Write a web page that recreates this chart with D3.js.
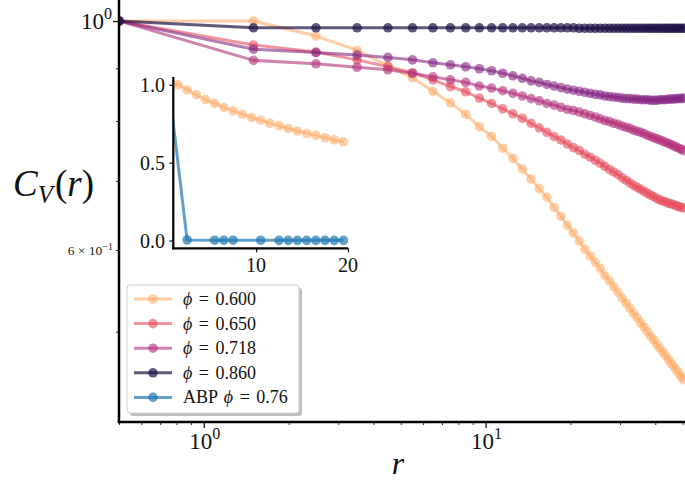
<!DOCTYPE html>
<html><head><meta charset="utf-8">
<script src="https://cdn.jsdelivr.net/npm/d3@7"></script>
<style>
html,body{margin:0;padding:0;background:#fff;}
svg text{font-family:"Liberation Serif","DejaVu Serif",serif;fill:#111;}
</style></head>
<body>
<svg id="chart" width="685" height="482"></svg>
<script>
// ---------------- data ----------------
const rValues = [0.5,1.5,2.5,3.5,4.5,5.5,6.5,7.5,8.5,9.5,10.5,11.5,12.5,13.5,14.5,15.5,16.5,17.5,18.5,19.5,20.5,21.5,22.5,23.5,24.5,25.5,26.5,27.5,28.5,29.5,30.5,31.5,32.5,33.5,34.5,35.5,36.5,37.5,38.5,39.5,40.5,41.5,42.5,43.5,44.5,45.5,46.5,47.5,48.5,49.5,50.5];
const phi0600 = [1.000,1.000,0.967,0.937,0.905,0.881,0.855,0.833,0.812,0.790,0.773,0.753,0.736,0.719,0.703,0.688,0.675,0.660,0.647,0.634,0.623,0.612,0.601,0.592,0.584,0.576,0.567,0.560,0.553,0.546,0.539,0.533,0.527,0.521,0.516,0.510,0.505,0.500,0.495,0.491,0.486,0.482,0.478,0.474,0.470,0.466,0.463,0.459,0.456,0.452,0.449];
const phi0650 = [1.000,0.948,0.933,0.917,0.903,0.891,0.877,0.864,0.854,0.842,0.832,0.822,0.813,0.805,0.796,0.788,0.780,0.773,0.767,0.760,0.754,0.749,0.743,0.738,0.733,0.728,0.723,0.718,0.714,0.710,0.705,0.701,0.697,0.693,0.690,0.687,0.684,0.681,0.678,0.676,0.673,0.671,0.669,0.668,0.666,0.665,0.664,0.662,0.661,0.660,0.659];
const phi0718 = [1.000,0.916,0.909,0.902,0.897,0.890,0.883,0.877,0.872,0.865,0.861,0.856,0.851,0.846,0.841,0.837,0.832,0.829,0.825,0.821,0.819,0.816,0.813,0.810,0.807,0.804,0.801,0.799,0.796,0.794,0.791,0.789,0.787,0.784,0.782,0.780,0.778,0.775,0.773,0.771,0.769,0.767,0.765,0.763,0.761,0.759,0.757,0.755,0.753,0.751,0.749];
const phiUnlabeled = [1.000,0.939,0.932,0.927,0.922,0.917,0.911,0.907,0.903,0.899,0.895,0.890,0.885,0.880,0.875,0.872,0.868,0.865,0.862,0.859,0.857,0.855,0.853,0.851,0.849,0.848,0.846,0.845,0.844,0.843,0.842,0.841,0.841,0.840,0.840,0.839,0.839,0.839,0.838,0.838,0.838,0.839,0.839,0.839,0.840,0.840,0.840,0.841,0.841,0.841,0.842];
const phi0860 = [1.000,0.985,0.985,0.985,0.985,0.985,0.985,0.985,0.985,0.985,0.985,0.985,0.985,0.985,0.985,0.985,0.985,0.985,0.985,0.985,0.985,0.984,0.984,0.984,0.984,0.984,0.984,0.984,0.984,0.984,0.984,0.984,0.984,0.984,0.984,0.984,0.984,0.984,0.984,0.984,0.984,0.984,0.984,0.984,0.984,0.984,0.984,0.984,0.984,0.984,0.984];
const rABP = [0.5,2.5,5.5,6.5,7.5,10.5,12.5,13.5,14.5,15.5,16.5,17.5,18.5,19.5];
const abp076 = [1.000,0.004,0.002,0.002,0.002,0.002,0.001,0.001,0.001,0.001,0.001,0.001,0.001,0.001];

const legendLabels = ["\u03D5 = 0.600","\u03D5 = 0.650","\u03D5 = 0.718","\u03D5 = 0.860","ABP \u03D5 = 0.76"];
const xMajorTicks = [1, 10];
const xMinorTicks = [0.5,0.6,0.7,0.8,0.9,2,3,4,5,6,7,8,9,20,30,40,50];
const yMajorTicks = [1];
const yMinorTicks = [0.5,0.6,0.7,0.8,0.9];
const insetXTicks = [10, 20];
const insetYTicks = [0.0, 0.5, 1.0];

// ---------------- styles ----------------
const colors = {
  p600: "#fdad6a",
  p650: "#e64f5e",
  p718: "#b2307c",
  pun:  "#832380",
  p860: "#1e1146",
  abp:  "#1f77b4"
};
const alpha = 0.6;
const LW = 3, RAD = 4.8;

const svg = d3.select("#chart");

// ---------------- main axes ----------------
const mL = 119, mR = 685, mT = 0, mB = 422;
const x = d3.scaleLog().domain([0.5, 51]).range([mL, mR]);
const y = d3.scaleLog().domain([0.4088, 1.048]).range([mB, mT]);

svg.append("clipPath").attr("id","mainClip").append("rect")
  .attr("x", mL).attr("y", mT).attr("width", mR-mL).attr("height", mB-mT);

const main = svg.append("g").attr("clip-path","url(#mainClip)");

function drawSeries(g, xs, ys, xsc, ysc, color, a, lw, rad){
  const pts = xs.map((d,i)=>[d, ys[i]]);
  const line = d3.line().x(d=>xsc(d[0])).y(d=>ysc(d[1]));
  g.append("path").datum(pts).attr("d", line)
    .attr("fill","none").attr("stroke", color).attr("stroke-width", lw)
    .attr("stroke-opacity", a).attr("stroke-linejoin","round");
  g.append("g").selectAll("circle").data(pts).join("circle")
    .attr("cx", d=>xsc(d[0])).attr("cy", d=>ysc(d[1])).attr("r", rad)
    .attr("fill", color).attr("fill-opacity", a);
}

drawSeries(main, rValues, phi0600, x, y, colors.p600, alpha, LW, RAD);
drawSeries(main, rValues, phi0650, x, y, colors.p650, alpha, LW, RAD);
drawSeries(main, rValues, phi0718, x, y, colors.p718, alpha, LW, RAD);
drawSeries(main, rValues, phiUnlabeled, x, y, colors.pun, alpha, LW, RAD);
drawSeries(main, rValues, phi0860, x, y, colors.p860, 0.7, LW, RAD);

// axes
const xAxis = d3.axisBottom(x).tickValues(xMajorTicks).tickSize(6).tickFormat("");
const xAxisMinor = d3.axisBottom(x).tickValues(xMinorTicks).tickSize(3).tickFormat("");
const yAxis = d3.axisLeft(y).tickValues(yMajorTicks).tickSize(6).tickFormat("");
const yAxisMinor = d3.axisLeft(y).tickValues(yMinorTicks).tickSize(3).tickFormat("");

function styleAxis(g, w){
  g.select(".domain").remove();
  g.selectAll(".tick line").attr("stroke","#111").attr("stroke-width", w);
}
svg.append("g").attr("transform",`translate(0,${mB})`).call(xAxis).call(g=>styleAxis(g,1.3));
svg.append("g").attr("transform",`translate(0,${mB})`).call(xAxisMinor).call(g=>styleAxis(g,0.9));
svg.append("g").attr("transform",`translate(${mL},0)`).call(yAxis).call(g=>styleAxis(g,1.3));
svg.append("g").attr("transform",`translate(${mL},0)`).call(yAxisMinor).call(g=>styleAxis(g,0.9));

// spines
svg.append("line").attr("x1",mL).attr("x2",mL).attr("y1",mT).attr("y2",mB+1.2)
  .attr("stroke","#000").attr("stroke-width",2.5);
svg.append("line").attr("x1",mL-1.2).attr("x2",mR).attr("y1",mB).attr("y2",mB)
  .attr("stroke","#000").attr("stroke-width",2.5);

// tick labels (power notation)
function powLabel(px, py, base, exp, fs, anchor){
  const t = svg.append("text").attr("x",px).attr("y",py).attr("text-anchor",anchor)
    .style("font-size", fs+"px");
  t.append("tspan").text(base);
  t.append("tspan").attr("dy", -fs*0.42).style("font-size",(fs*0.7)+"px").text(exp);
  return t;
}
xMajorTicks.forEach(v=>{
  powLabel(x(v)+1, 449, "10", String(Math.round(Math.log10(v))), 23, "middle");
});
yMajorTicks.forEach(v=>{
  powLabel(112, y(v)+8, "10", String(Math.round(Math.log10(v))), 23, "end");
});
// minor label 6 x 10^-1
{
  const t = svg.append("text").attr("x",113).attr("y",y(0.6)+5).attr("text-anchor","end")
    .style("font-size","13.5px").style("fill","#222");
  t.append("tspan").text("6 \u00D7 10");
  t.append("tspan").attr("dy",-5).style("font-size","10px").text("\u22121");
}

// axis labels
{
  const t = svg.append("text").attr("x",13).attr("y",196).style("font-size","37px");
  t.append("tspan").style("font-style","italic").text("C");
  t.append("tspan").attr("dy",7).style("font-size","25px").style("font-style","italic").text("V");
  t.append("tspan").attr("dy",-7).attr("dx",2).text("(");
  t.append("tspan").style("font-style","italic").text("r");
  t.append("tspan").text(")");
}
svg.append("text").attr("x",398).attr("y",474).attr("text-anchor","middle")
  .style("font-size","32px").style("font-style","italic").text("r");

// ---------------- inset ----------------
const iL = 173.3, iR = 348, iT = 77, iB = 248.3;
const xi = d3.scaleLinear().domain([1, 20]).range([iL, iR]);
const yi = d3.scaleLinear().domain([-0.05, 1.05]).range([iB, iT]);

svg.append("clipPath").attr("id","insetClip").append("rect")
  .attr("x", iL).attr("y", iT).attr("width", iR-iL).attr("height", iB-iT);
const inset = svg.append("g").attr("clip-path","url(#insetClip)");
const rIn = rValues.filter(v=>v<=20);
drawSeries(inset, rIn, phi0600.slice(0, rIn.length), xi, yi, colors.p600, alpha, LW, RAD);
drawSeries(inset, rABP, abp076, xi, yi, colors.abp, 0.7, LW, RAD);

svg.append("g").attr("transform",`translate(0,${iB})`)
  .call(d3.axisBottom(xi).tickValues(insetXTicks).tickSize(4).tickFormat(""))
  .call(g=>styleAxis(g,1.2));
svg.append("g").attr("transform",`translate(${iL},0)`)
  .call(d3.axisLeft(yi).tickValues(insetYTicks).tickSize(4).tickFormat(""))
  .call(g=>styleAxis(g,1.2));
svg.append("line").attr("x1",iL).attr("x2",iL).attr("y1",iT).attr("y2",iB+1)
  .attr("stroke","#000").attr("stroke-width",2.2);
svg.append("line").attr("x1",iL-1).attr("x2",iR).attr("y1",iB).attr("y2",iB)
  .attr("stroke","#000").attr("stroke-width",2.2);

insetXTicks.forEach(v=>{
  svg.append("text").attr("x",xi(v)).attr("y",272).attr("text-anchor","middle")
    .style("font-size","20px").text(d3.format("d")(v));
});
insetYTicks.forEach(v=>{
  svg.append("text").attr("x",165).attr("y",yi(v)+7).attr("text-anchor","end")
    .style("font-size","20px").text(d3.format(".1f")(v));
});

// ---------------- legend ----------------
const lg = svg.append("g");
const lx = 127, ly = 285, lw = 172, lh = 128;
lg.append("rect").attr("x",lx+3).attr("y",ly+3).attr("width",lw).attr("height",lh)
  .attr("rx",3).attr("fill","#888").attr("fill-opacity",0.55);
lg.append("rect").attr("x",lx).attr("y",ly).attr("width",lw).attr("height",lh)
  .attr("rx",3).attr("fill","#fff").attr("stroke","#d0d0d0").attr("stroke-width",1);
const legColors = [colors.p600, colors.p650, colors.p718, colors.p860, colors.abp];
const legAlpha = [alpha, alpha, alpha, 0.7, 0.7];
legendLabels.forEach((lab,i)=>{
  const yy = 299 + i*24.6;
  lg.append("line").attr("x1",134).attr("x2",172).attr("y1",yy).attr("y2",yy)
    .attr("stroke",legColors[i]).attr("stroke-width",LW).attr("stroke-opacity",legAlpha[i]);
  lg.append("circle").attr("cx",153).attr("cy",yy).attr("r",RAD)
    .attr("fill",legColors[i]).attr("fill-opacity",legAlpha[i]);
  const t = lg.append("text").attr("x",183).attr("y",yy+6).style("font-size","18px")
    .style("word-spacing","2px");
  const parts = lab.split("\u03D5");
  t.append("tspan").text(parts[0]);
  t.append("tspan").style("font-style","italic").text("\u03D5");
  t.append("tspan").text(parts[1]);
});
</script>
</body></html>
